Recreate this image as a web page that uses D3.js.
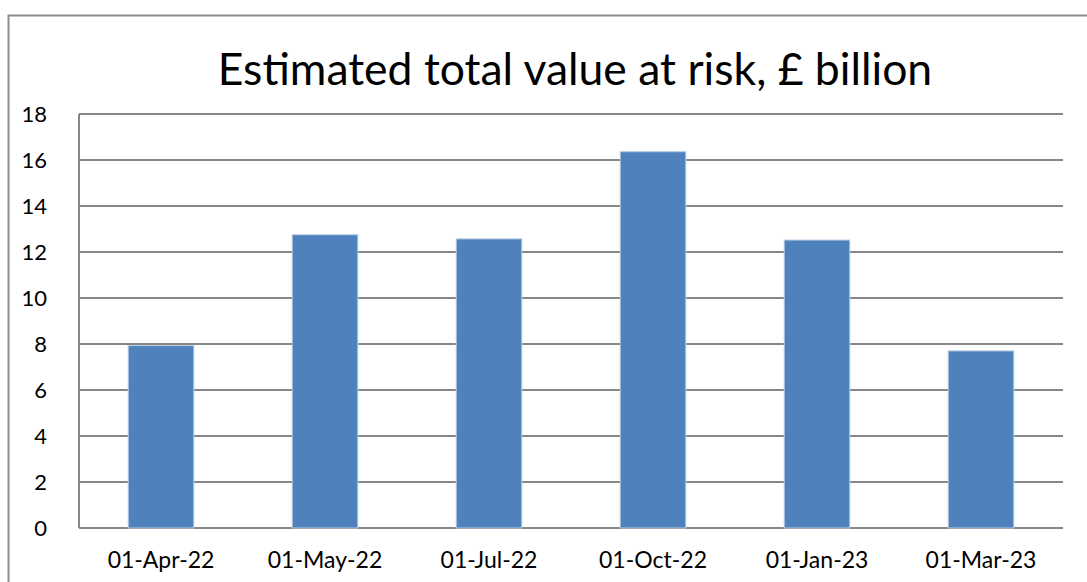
<!DOCTYPE html>
<html>
<head>
<meta charset="utf-8">
<script src="https://cdn.jsdelivr.net/npm/d3@7"></script>
<style>
  body { margin: 0; background: #fff; }
  svg { display: block; font-family: Lato, "Open Sans", sans-serif; }
</style>
</head>
<body>
<svg id="chart" width="1087" height="582"></svg>
<script>
var categories = ["01-Apr-22", "01-May-22", "01-Jul-22", "01-Oct-22", "01-Jan-23", "01-Mar-23"];
var values = [7.93, 12.75, 12.57, 16.36, 12.52, 7.7];
var yTicks = [0, 2, 4, 6, 8, 10, 12, 14, 16, 18];
var title = "Estimated total value at risk, £ billion";

var margin = {top: 114, right: 24, bottom: 54, left: 79},
    width = 1087 - margin.left - margin.right,
    height = 582 - margin.top - margin.bottom;

var svg = d3.select("#chart");

// outer chart frame, runs off the page on the right and bottom
svg.append("rect")
    .attr("x", 8.5).attr("y", 15.5)
    .attr("width", 1200).attr("height", 700)
    .attr("fill", "none")
    .attr("stroke", "#8c8c8c")
    .attr("stroke-width", 2);

svg.append("text")
    .attr("x", 575).attr("y", 85)
    .attr("text-anchor", "middle")
    .attr("font-size", 44.5)
    .attr("fill", "#000")
    .text(title);

var g = svg.append("g")
    .attr("transform", "translate(" + margin.left + "," + margin.top + ")");

var x = d3.scaleBand()
    .domain(categories)
    .range([0, width])
    .paddingInner(0.6)
    .paddingOuter(0.3);

var y = d3.scaleLinear()
    .domain([0, 18])
    .range([height, 0]);

// gridlines
g.selectAll(".grid")
    .data(yTicks)
    .enter()
    .append("line")
    .attr("x1", 0).attr("x2", width)
    .attr("y1", function(d) { return y(d); })
    .attr("y2", function(d) { return y(d); })
    .attr("stroke", "#878787")
    .attr("stroke-width", 2);

// left border of plot area
g.append("line")
    .attr("x1", 0).attr("x2", 0)
    .attr("y1", 0).attr("y2", height)
    .attr("stroke", "#878787")
    .attr("stroke-width", 2);

g.selectAll(".bar")
    .data(values)
    .enter()
    .append("rect")
    .attr("x", function(d, i) { return x(categories[i]); })
    .attr("y", function(d) { return y(d); })
    .attr("width", x.bandwidth())
    .attr("height", function(d) { return height - y(d); })
    .attr("fill", "#4f81bd")
    .attr("stroke", "#b9cde5")
    .attr("stroke-width", 1);

var yAxis = g.append("g")
    .call(d3.axisLeft(y).tickValues(yTicks).tickSize(0).tickPadding(32));
yAxis.select(".domain").remove();
yAxis.selectAll("text")
    .attr("font-size", 22)
    .attr("font-family", "Lato, 'Open Sans', sans-serif")
    .attr("fill", "#000");

var xAxis = g.append("g")
    .attr("transform", "translate(0," + height + ")")
    .call(d3.axisBottom(x).tickSize(0).tickPadding(24));
xAxis.select(".domain").remove();
xAxis.selectAll("text")
    .attr("font-size", 23)
    .attr("font-family", "Lato, 'Open Sans', sans-serif")
    .attr("fill", "#000");
</script>
</body>
</html>
